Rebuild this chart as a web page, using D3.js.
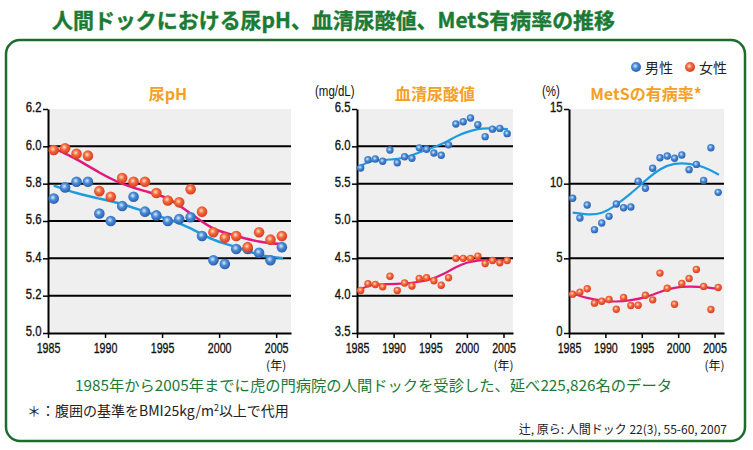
<!DOCTYPE html>
<html><head><meta charset="utf-8">
<script src="https://cdn.jsdelivr.net/npm/d3@7"></script>
<style>
body{margin:0;background:#fff;}
svg{display:block;}
.num{font-family:"Liberation Sans",Arial,sans-serif;}
.jp{font-family:"Noto Sans CJK JP","Noto Sans",sans-serif;}
</style></head>
<body>
<svg id="chart" width="753" height="450"></svg>
<script>
// ---------------- data ----------------
const years = [1985,1986,1987,1988,1989,1990,1991,1992,1993,1994,1995,1996,1997,1998,1999,2000,2001,2002,2003,2004,2005];
const yearTicks = [1985,1990,1995,2000,2005];

const phTicks = [5.0,5.2,5.4,5.6,5.8,6.0,6.2];
const phMale   = [5.72,5.78,5.81,5.81,5.64,5.60,5.68,5.73,5.65,5.63,5.60,5.61,5.62,5.52,5.39,5.37,5.45,5.45,5.43,5.39,5.46];
const phFemale = [5.98,5.99,5.96,5.95,5.76,5.73,5.83,5.81,5.81,5.75,5.71,5.70,5.77,5.65,5.54,5.51,5.52,5.46,5.54,5.50,5.52];
const phTrendYears  = [1985.5,1987.5,1989.5,1991.5,1993.5,1995.5,1997.5,1999.5,2001.5,2003.5,2005.6];
const phMaleTrend   = [5.79,5.75,5.72,5.69,5.65,5.61,5.56,5.50,5.46,5.42,5.40];
const phFemaleTrend = [5.99,5.93,5.86,5.80,5.76,5.72,5.64,5.56,5.52,5.49,5.475];

const uaTicks = [3.5,4.0,4.5,5.0,5.5,6.0,6.5];
const uaMale   = [5.71,5.82,5.83,5.80,5.95,5.78,5.86,5.84,5.98,5.96,5.91,5.88,6.02,6.30,6.33,6.38,6.29,6.13,6.23,6.24,6.17];
const uaFemale = [4.07,4.16,4.15,4.12,4.26,4.07,4.17,4.13,4.23,4.24,4.20,4.14,4.24,4.50,4.50,4.50,4.53,4.43,4.47,4.44,4.47];
const uaTrendYears  = [1985.5,1987,1989,1991,1993,1995,1997,1998.5,2000,2001.5,2003,2005.6];
const uaMaleTrend   = [5.74,5.80,5.82,5.84,5.90,5.97,6.05,6.13,6.19,6.23,6.24,6.23];
const uaFemaleTrend = [4.09,4.14,4.155,4.16,4.18,4.22,4.30,4.38,4.44,4.47,4.48,4.48];

const metsTicks = [0,5,10,15];
const metsMale   = [9.02,7.70,8.57,6.92,7.37,7.81,8.64,8.39,8.44,10.16,9.69,11.03,11.74,11.85,11.70,11.92,10.94,11.29,10.22,12.41,9.42];
const metsFemale = [2.60,2.74,2.96,2.00,2.13,2.24,1.59,2.38,1.84,1.86,2.53,2.22,4.01,3.00,1.93,3.32,3.65,4.26,3.12,1.57,3.05];
const metsTrendYears  = [1985.5,1987.5,1989.5,1991.5,1993.5,1995.5,1997.5,1999.5,2001.5,2003.5,2005.6];
const metsMaleTrend   = [8.06,7.95,8.05,8.60,9.35,10.20,10.95,11.32,11.33,11.10,10.60];
const metsFemaleTrend = [2.65,2.35,2.17,2.11,2.20,2.40,2.75,3.02,3.10,3.07,2.95];

const legendLabels = ["男性","女性"];

// ---------------- drawing ----------------
const svg = d3.select("#chart");
const defs = svg.append("defs");
function grad(id, c0, c1, c2){
  const g = defs.append("radialGradient").attr("id", id)
    .attr("cx","42%").attr("cy","40%").attr("r","60%");
  g.append("stop").attr("offset","0%").attr("stop-color",c0);
  g.append("stop").attr("offset","45%").attr("stop-color",c1);
  g.append("stop").attr("offset","100%").attr("stop-color",c2);
}
grad("gBlue","#d6ecff","#4a8bd6","#2a5fae");
grad("gRed","#ffe2c8","#f4683c","#d63c1e");

const colors = {male:"url(#gBlue)", female:"url(#gRed)", maleLine:"#1c9be0", femaleLine:"#e3187d"};

// condense text horizontally (narrow typeface look)
function condense(sel, k){
  sel.each(function(){
    const w = this.getComputedTextLength();
    d3.select(this).attr("textLength", w*k).attr("lengthAdjust","spacingAndGlyphs");
  });
}

// Title
svg.append("text").attr("class","jp").attr("x",52).attr("y",28)
  .attr("font-size",21).attr("font-weight","bold").attr("fill","#1b7a34")
  .attr("stroke","#1b7a34").attr("stroke-width",0.4)
  .attr("textLength",563).attr("lengthAdjust","spacingAndGlyphs")
  .text("人間ドックにおける尿pH、血清尿酸値、MetS有病率の推移");

// Frame
svg.append("rect").attr("x",6).attr("y",40).attr("width",739).attr("height",401)
  .attr("rx",14).attr("fill","#fff").attr("stroke","#1d6b2f").attr("stroke-width",2.5);

// Legend
const lg = [[636,legendLabels[0],colors.male],[690,legendLabels[1],colors.female]];
lg.forEach(([x,t,c])=>{
  svg.append("circle").attr("cx",x).attr("cy",67).attr("r",5).attr("fill",c);
  svg.append("text").attr("class","jp").attr("x",x+9).attr("y",72.5).attr("font-size",14)
    .attr("fill","#222").text(t);
});

const yTop = 109, yBot = 333;
const panels = [
  {x0:48, x1:291, dom:[5.0,6.2], ticks:phTicks, fmt:d3.format(".1f"), title:"尿pH", tx:168,
   male:phMale, female:phFemale, ty:phTrendYears, mt:phMaleTrend, ft:phFemaleTrend, r:5.3, lw:2.5},
  {x0:357, x1:513, dom:[3.5,6.5], ticks:uaTicks, fmt:d3.format(".1f"), title:"血清尿酸値", tx:435,
   unit:"(mg/dL)", ux:315, male:uaMale, female:uaFemale, ty:uaTrendYears, mt:uaMaleTrend, ft:uaFemaleTrend, r:3.7, lw:2.2},
  {x0:569, x1:724, dom:[0,15], ticks:metsTicks, fmt:d3.format("d"), title:"MetSの有病率*", tx:646,
   unit:"(%)", ux:542, male:metsMale, female:metsFemale, ty:metsTrendYears, mt:metsMaleTrend, ft:metsFemaleTrend, r:3.7, lw:2.2}
];

panels.forEach(p=>{
  const x = d3.scaleLinear().domain([1985,2006.3]).range([p.x0,p.x1]);
  const y = d3.scaleLinear().domain(p.dom).range([yBot,yTop]);
  const g = svg.append("g");
  g.append("rect").attr("x",p.x0).attr("y",yTop).attr("width",p.x1-p.x0).attr("height",yBot-yTop).attr("fill","#efefef");
  // gridlines
  g.selectAll(".grid").data(p.ticks.filter(t=>t!==p.dom[0] && t!==p.dom[1])).enter().append("line")
    .attr("x1",p.x0).attr("x2",p.x1).attr("y1",d=>y(d)).attr("y2",d=>y(d))
    .attr("stroke","#000").attr("stroke-width",2);
  // y axis
  const ya = g.append("g").attr("transform",`translate(${p.x0},0)`)
    .call(d3.axisLeft(y).tickValues(p.ticks).tickFormat(p.fmt).tickSize(5).tickSizeOuter(0).tickPadding(1.5));
  ya.select(".domain").attr("stroke","#000").attr("stroke-width",2);
  ya.selectAll(".tick line").attr("stroke","#000").attr("stroke-width",1.5);
  ya.selectAll("text").attr("class","num").attr("font-size",14.5).attr("fill","#111")
    .attr("dy","0.2em").attr("stroke","#111").attr("stroke-width",0.35);
  condense(ya.selectAll("text"), 0.78);
  // x axis
  const xa = g.append("g").attr("transform",`translate(0,${yBot})`)
    .call(d3.axisBottom(x).tickValues(yearTicks).tickFormat(d3.format("d")).tickSize(5).tickSizeOuter(0).tickPadding(4));
  xa.select(".domain").attr("stroke","#000").attr("stroke-width",2);
  xa.selectAll(".tick line").attr("stroke","#000").attr("stroke-width",1.5);
  xa.selectAll("text").attr("class","num").attr("font-size",15).attr("fill","#111")
    .attr("stroke","#111").attr("stroke-width",0.35);
  condense(xa.selectAll("text"), 0.71);
  g.append("text").attr("class","jp").attr("x",x(2005)).attr("y",370).attr("text-anchor","middle")
    .attr("font-size",12).attr("fill","#111").text("(年)");
  // titles
  g.append("text").attr("class","jp").attr("x",p.tx).attr("y",100).attr("text-anchor","middle")
    .attr("font-size",16).attr("font-weight","bold").attr("fill","#f4a024").text(p.title);
  if(p.unit){
    const u = g.append("text").attr("class","num").attr("x",p.ux).attr("y",95.5)
      .attr("font-size",14).attr("fill","#111").text(p.unit);
    condense(u, 0.82);
  }
  // trend lines
  const line = d3.line().x((d,i)=>x(p.ty[i])).y(d=>y(d)).curve(d3.curveNatural);
  g.append("path").attr("d",line(p.mt)).attr("fill","none").attr("stroke",colors.maleLine).attr("stroke-width",p.lw);
  g.append("path").attr("d",line(p.ft)).attr("fill","none").attr("stroke",colors.femaleLine).attr("stroke-width",p.lw);
  // points
  g.selectAll(".pm").data(p.male).enter().append("circle")
    .attr("cx",(d,i)=>x(years[i]+0.5)).attr("cy",d=>y(d)).attr("r",p.r).attr("fill",colors.male);
  g.selectAll(".pf").data(p.female).enter().append("circle")
    .attr("cx",(d,i)=>x(years[i]+0.5)).attr("cy",d=>y(d)).attr("r",p.r).attr("fill",colors.female);
});

// Footer
svg.append("text").attr("class","jp").attr("x",75).attr("y",391).attr("font-size",15)
  .attr("fill","#1b7a34").attr("textLength",597).attr("lengthAdjust","spacingAndGlyphs")
  .text("1985年から2005年までに虎の門病院の人間ドックを受診した、延べ225,826名のデータ");
const fn = svg.append("text").attr("class","jp").attr("x",27).attr("y",415.5).attr("font-size",14).attr("fill","#222");
fn.append("tspan").text("＊：腹囲の基準をBMI25kg/m");
fn.append("tspan").attr("font-size",9).attr("dy",-5).text("2");
fn.append("tspan").attr("dy",5).text("以上で代用");
svg.append("text").attr("class","jp").attr("x",727).attr("y",434).attr("text-anchor","end")
  .attr("font-size",12).attr("fill","#222").text("辻, 原ら: 人間ドック 22(3), 55-60, 2007");
</script>
</body></html>
